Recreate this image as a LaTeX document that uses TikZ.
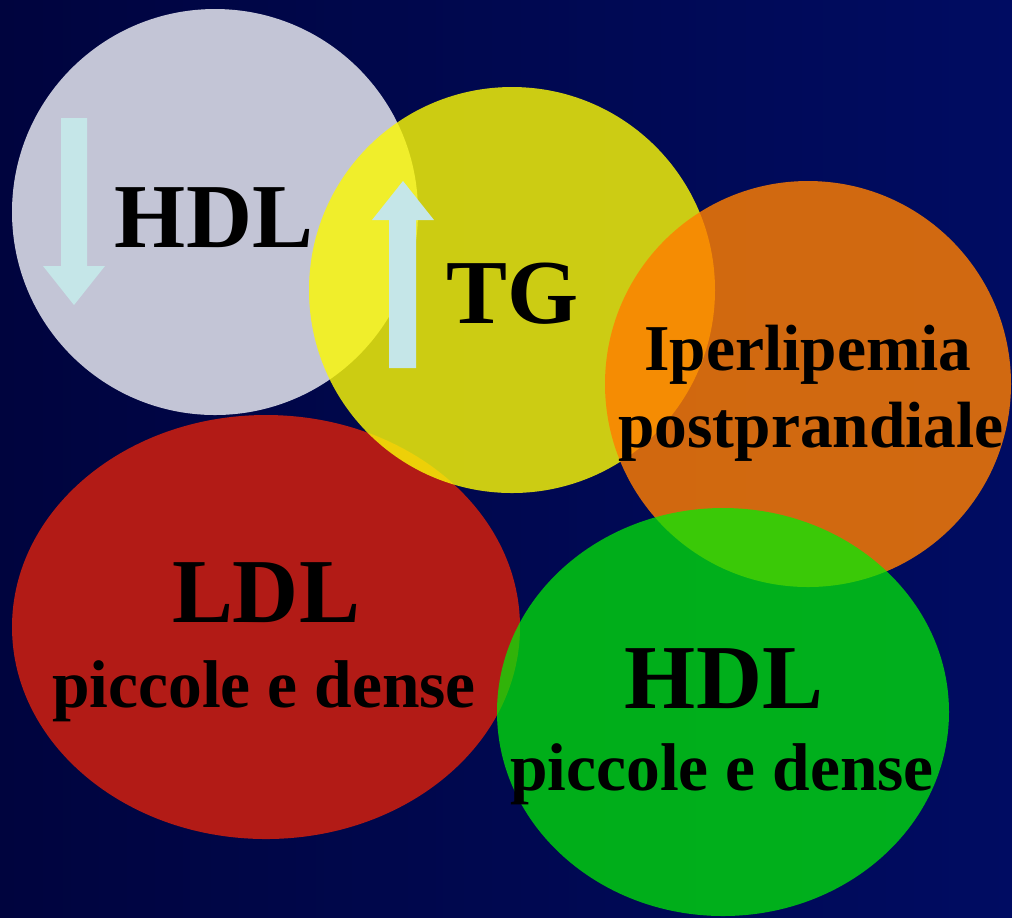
\documentclass[tikz,border=0pt]{standalone}
\usepackage{fontspec}
\setmainfont{Liberation Serif}
\usetikzlibrary{positioning}
\definecolor{navyleft}{RGB}{0,4,62}
\definecolor{navyright}{RGB}{0,12,98}
\definecolor{hdlgray}{RGB}{195,197,214}
\definecolor{tgyellow}{RGB}{250,248,6}
\definecolor{ldlred}{RGB}{178,27,22}
\definecolor{ppdorange}{RGB}{255,126,0}
\definecolor{hdlgreen}{RGB}{0,239,4}
\definecolor{arrowcyan}{RGB}{197,230,232}
\begin{document}
\begin{tikzpicture}[x=0.01cm, y=-0.01cm,
  bigtxt/.style={anchor=base, inner sep=0pt, font=\fontsize{26}{28}\selectfont\bfseries},
  midtxt/.style={anchor=base, inner sep=0pt, font=\fontsize{19.2}{22}\selectfont\bfseries},
  lowtxt/.style={anchor=base, inner sep=0pt, font=\fontsize{18.6}{22}\selectfont\bfseries}]
  \useasboundingbox (0,0) rectangle (1012,917);
  \shade[left color=navyleft, right color=navyright] (0,0) rectangle (1012,917);

  % bubbles
  \fill[hdlgray] (215,212) circle [radius=203];
  \fill[ldlred] (266,627) ellipse [x radius=254, y radius=212];
  \fill[tgyellow, fill opacity=0.82] (512,290) circle [radius=203];
  \fill[ppdorange, fill opacity=0.82] (808,384) circle [radius=203];
  \fill[hdlgreen, fill opacity=0.72] (723,712) ellipse [x radius=226, y radius=204];

  % arrows
  \fill[arrowcyan] (61,118) -- (87,118) -- (87,266) -- (105,266) -- (74,305) -- (43,266) -- (61,266) -- cycle;
  \fill[arrowcyan] (389,368) -- (416,368) -- (416,220) -- (434,220) -- (403,181) -- (372,220) -- (389,220) -- cycle;

  % labels
  \node[bigtxt] (hdltop) at (214,247) {HDL};
  \node[bigtxt] (tg) at (513,323) {TG};
  \node[lowtxt] (iper) at (808,370) {Iperlipemia};
  \node[lowtxt] (postp) at (811,447) {postprandiale};
  \node[bigtxt] (ldl) at (266,622) {LDL};
  \node[midtxt] (ldlsub) at (264,707) {piccole e dense};
  \node[bigtxt] (hdlbot) at (724,708) {HDL};
  \node[midtxt] (hdlsub) at (722,790) {piccole e dense};
\end{tikzpicture}
\end{document}
